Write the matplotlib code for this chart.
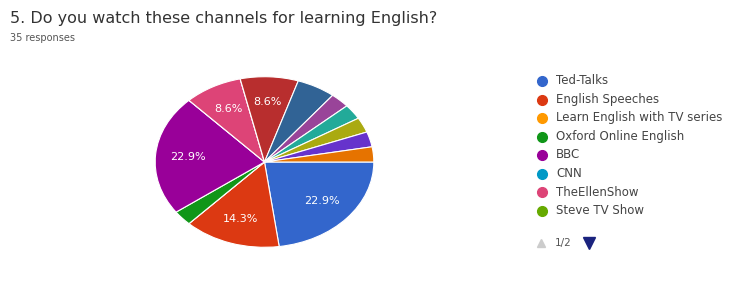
import matplotlib.pyplot as plt

# slice data (35 responses), Google Forms order, starts at 3 o'clock clockwise
slice_names = ["Ted-Talks", "English Speeches", "Learn English with TV series",
               "Oxford Online English", "BBC", "CNN", "TheEllenShow", "Steve TV Show",
               "Other 1", "Other 2", "Other 3", "Other 4", "Other 5", "Other 6", "Other 7"]
slice_counts = [8, 5, 0, 1, 8, 0, 3, 0, 3, 2, 1, 1, 1, 1, 1]
slice_colors = ["#3366cc", "#dc3912", "#ff9900", "#109618", "#990099", "#0099c6",
                "#dd4477", "#66aa00", "#b82e2e", "#316395", "#994499", "#22aa99",
                "#aaaa11", "#6633cc", "#e67300"]

legend_names = slice_names[:8]
legend_colors = slice_colors[:8]

W, H = 739, 281
fig = plt.figure(figsize=(W / 100, H / 100), dpi=100)

fig.text(10 / W, 1 - 18 / H, "5. Do you watch these channels for learning English?",
         fontsize=11.5, color="#333333", va="center", ha="left")
fig.text(10 / W, 1 - 38 / H, "35 responses", fontsize=7, color="#555555",
         va="center", ha="left")

ax = fig.add_axes([153 / W, 1 - 249 / H, 223 / W, 174 / H])


def fmt(p):
    return f"{p:.1f}%" if p >= 8 else ""


wedges, texts, autotexts = ax.pie(
    slice_counts, colors=slice_colors, startangle=0, counterclock=False,
    autopct=fmt, pctdistance=0.7,
    wedgeprops=dict(edgecolor="white", linewidth=0.8),
    textprops=dict(color="white", fontsize=8))
ax.set_aspect("auto")
ax.set_xlim(-1.02, 1.02)
ax.set_ylim(-1.02, 1.02)

# legend (page 1 of 2)
lax = fig.add_axes([0, 0, 1, 1])
lax.set_xlim(0, W)
lax.set_ylim(H, 0)
lax.axis("off")
y0, dy = 81, 18.5
for i, (name, c) in enumerate(zip(legend_names, legend_colors)):
    y = y0 + i * dy
    lax.plot(542, y, "o", color=c, markersize=7)
    lax.text(556, y, name, fontsize=8.5, color="#444444", va="center", ha="left")
lax.plot(541, 243, "^", color="#cccccc", markersize=5.5)
lax.text(555, 243, "1/2", fontsize=7.5, color="#555555", va="center", ha="left")
lax.plot(589, 243, "v", color="#1a237e", markersize=8)

plt.savefig("out.png", dpi=100)
plt.close()
